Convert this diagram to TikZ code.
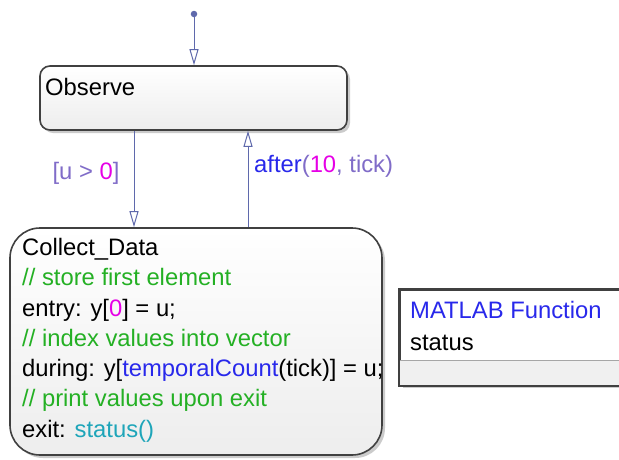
\documentclass[tikz,border=0pt]{standalone}
\usepackage{fontspec}
\setmainfont{Liberation Sans}
\usetikzlibrary{positioning,calc,arrows.meta,shadows}
\definecolor{trline}{RGB}{95,105,172}
\definecolor{lbl}{RGB}{128,108,200}
\definecolor{num}{RGB}{230,0,230}
\definecolor{kw}{RGB}{40,40,235}
\definecolor{cmt}{RGB}{36,176,36}
\definecolor{fn}{RGB}{30,165,185}

\begin{document}
\begin{tikzpicture}[x=1pt,y=-1pt,
  font=\fontsize{23.8}{30.3}\selectfont,
  statebox/.style={draw=black!75, line width=1.6pt, inner sep=0pt,
    top color=white, bottom color=black!7,
    drop shadow={shadow xshift=3pt, shadow yshift=-3pt, fill=black!40}},
  trans/.style={draw=trline, line width=1pt, -{Triangle[open, length=16pt, width=9pt]}},
  txt/.style={anchor=north west, inner sep=0pt, align=left}]
\clip (0,0) rectangle (619,459);
\fill[white] (0,0) rectangle (619,459);
% States
\node[statebox, rounded corners=10pt, minimum width=307pt, minimum height=64pt] (observe) at (193.5,98) {};
\node[statebox, rounded corners=30pt, minimum width=372pt, minimum height=227pt] (collect) at (196,341.5) {};
\node[txt] (obslbl) at (45,78) {Observe};
\node[txt] (colltxt) at (22,238) {Collect\_Data\\
  \textcolor{cmt}{// store first element}\\
  entry: y[\textcolor{num}{0}] = u;\\
  \textcolor{cmt}{// index values into vector}\\
  during: y[\textcolor{kw}{temporalCount}(tick)] = u;\\
  \textcolor{cmt}{// print values upon exit}\\
  exit: \textcolor{fn}{status()}};
% MATLAB function block
\node[statebox, minimum width=230pt, minimum height=95pt, bottom color=white] (mfun) at (515,337.5) {};
\fill[black!6] (mfun.west |- 0,360) rectangle (mfun.south east);
\draw[black!35, line width=1pt] (mfun.west |- 0,360) -- (mfun.east |- 0,360);
\draw[black!75, line width=1.6pt] (mfun.north west) rectangle (mfun.south east);
\node[txt] (mfunhead) at (410,301) {\textcolor{kw}{MATLAB Function}};
\node[txt] (mfunname) at (410,335) {status};
% Transitions
\node[circle, fill=trline, inner sep=2.3pt] (init) at (194,14) {};
\draw[trans] (init) -- (observe.north -| init);
\coordinate (gx) at (134,0);
\coordinate (ax) at (248,0);
\draw[trans] (observe.south -| gx) -- (collect.north -| gx);
\draw[trans] (collect.north -| ax) -- (observe.south -| ax);
\node (guard) at (86,173) {\textcolor{lbl}{[u > }\textcolor{num}{0}\textcolor{lbl}{]}};
\node[anchor=west, inner sep=0pt] (after) at (254,166) {\textcolor{kw}{after}\textcolor{lbl}{(}\textcolor{num}{10}\textcolor{lbl}{, tick)}};
\end{tikzpicture}
\end{document}
